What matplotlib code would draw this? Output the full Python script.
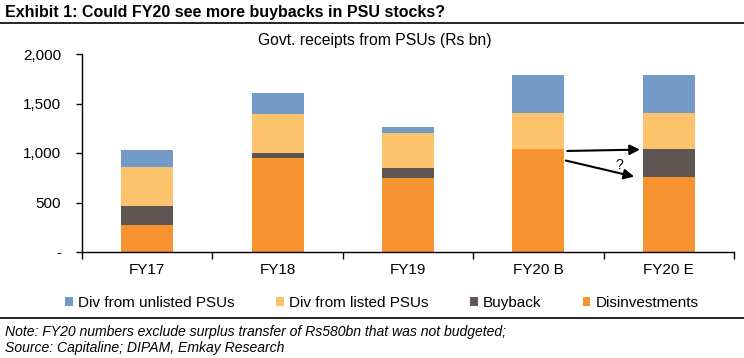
import matplotlib
matplotlib.use("Agg")
import matplotlib.pyplot as plt
import numpy as np

plt.rcParams['font.family'] = ['Liberation Sans', 'DejaVu Sans']

categories = ["FY17", "FY18", "FY19", "FY20 B", "FY20 E"]
disinvestments = [275, 945, 745, 1045, 755]
buyback = [185, 55, 100, 0, 290]
div_listed = [400, 390, 355, 360, 360]
div_unlisted = [170, 215, 60, 380, 380]
yticks = [0, 500, 1000, 1500, 2000]
ytick_labels = ["-", "500", "1,000", "1,500", "2,000"]

c_unlisted = "#7399C6"
c_listed = "#FBC46C"
c_buyback = "#5F5653"
c_disinv = "#F79431"

fig = plt.figure(figsize=(7.44, 3.58), dpi=100)
ax = fig.add_axes([82/744, 1-252/358, (734-82)/744, (252-54)/358])

x = np.arange(len(categories))
w = 0.4
b1 = np.array(disinvestments)
b2 = b1 + np.array(buyback)
b3 = b2 + np.array(div_listed)
ax.bar(x, disinvestments, w, color=c_disinv, label="Disinvestments", zorder=2)
ax.bar(x, buyback, w, bottom=b1, color=c_buyback, label="Buyback", zorder=2)
ax.bar(x, div_listed, w, bottom=b2, color=c_listed, label="Div from listed PSUs", zorder=2)
ax.bar(x, div_unlisted, w, bottom=b3, color=c_unlisted, label="Div from unlisted PSUs", zorder=2)

ax.set_xlim(-0.5, len(categories) - 0.5)
ax.set_ylim(0, 2000)
ax.set_yticks(yticks)
ax.set_yticklabels(ytick_labels, fontsize=11)
ax.set_xticks(x)
ax.set_xticklabels(categories, fontsize=11)
ax.tick_params(axis='x', length=0, pad=8)
ax.set_xticks(np.arange(-0.5, len(categories)), minor=True)
ax.tick_params(axis='x', which='minor', length=5, direction='out', width=1)
ax.tick_params(axis='y', length=4, direction='out', width=1, pad=11)
for s in ['top', 'right']:
    ax.spines[s].set_visible(False)
ax.spines['left'].set_linewidth(1)
ax.spines['bottom'].set_linewidth(1)

# annotation arrows
i_b, i_e = 3, 4
ax.annotate("", xy=(i_e - w/2, b2[i_e] - 10), xytext=(i_b + w/2, b1[i_b] - 25),
            arrowprops=dict(arrowstyle="-|>", color="black", lw=1.5, mutation_scale=15))
ax.annotate("", xy=(i_e - w/2 - 0.045, b1[i_e]), xytext=(i_b + w/2 - 0.01, b1[i_b] - 115),
            arrowprops=dict(arrowstyle="-|>", color="black", lw=1.5, mutation_scale=15))
ax.text(3.62, 880, "?", fontsize=10, ha='center', va='center')

# legend
handles, labels = ax.get_legend_handles_labels()
order = [3, 2, 1, 0]
fig.legend([handles[i] for i in order], [labels[i] for i in order],
           loc='center', bbox_to_anchor=(382/744, 1-303/358), ncol=4, frameon=False,
           fontsize=11, handlelength=0.5, handleheight=0.5, handletextpad=0.35,
           columnspacing=2.7)

fig.text(5/744, 1-12/358, "Exhibit 1: Could FY20 see more buybacks in PSU stocks?",
         fontsize=11.5, fontweight='bold', va='center', ha='left')
fig.add_artist(plt.Line2D([0, 1], [1-23/358, 1-23/358], color='black', lw=1.2,
                          transform=fig.transFigure))
fig.text(375/744, 1-40/358, "Govt. receipts from PSUs (Rs bn)", fontsize=11.3,
         ha='center', va='center')
fig.add_artist(plt.Line2D([0, 1], [1-318/358, 1-318/358], color='black', lw=1.2,
                          transform=fig.transFigure))
fig.text(5/744, 1-332/358,
         "Note: FY20 numbers exclude surplus transfer of Rs580bn that was not budgeted;",
         fontsize=10.1, style='italic', va='center', ha='left')
fig.text(5/744, 1-348/358, "Source: Capitaline; DIPAM, Emkay Research",
         fontsize=10.1, style='italic', va='center', ha='left')

fig.savefig("out.png", dpi=100)
